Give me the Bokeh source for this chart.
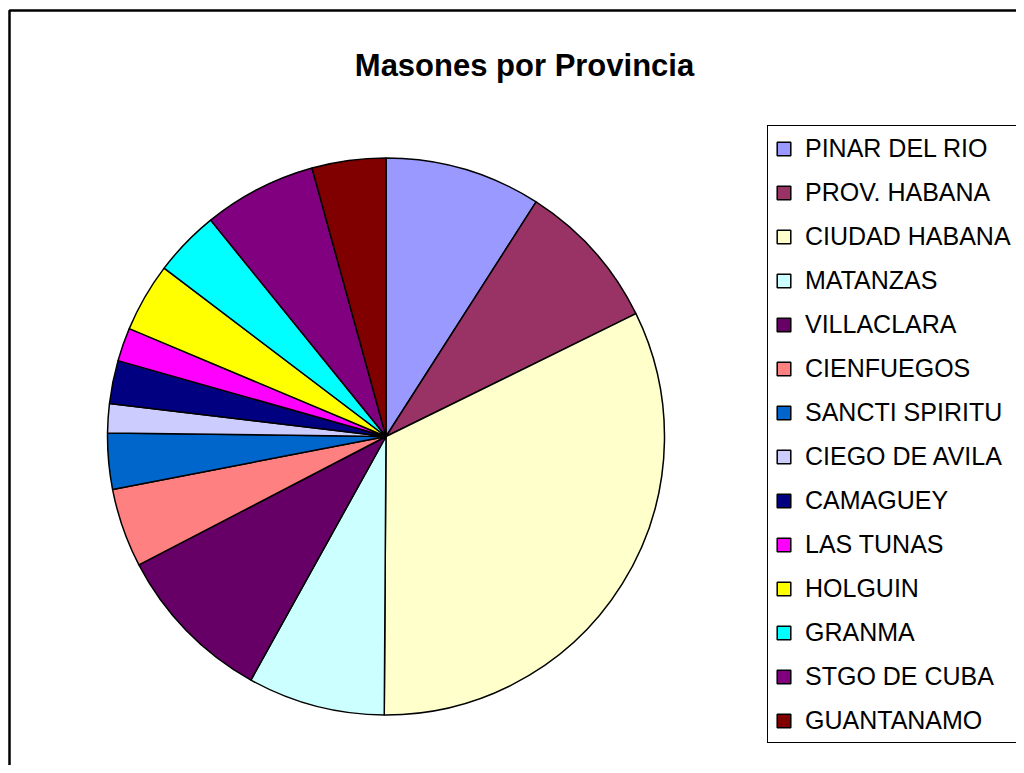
import numpy as np
from bokeh.plotting import figure
from bokeh.models import (ColumnDataSource, Legend, LegendItem, Label,
                          BoxAnnotation, Range1d)
from bokeh.embed import file_html
from bokeh.resources import INLINE

# ---- data ----
provinces = ["PINAR DEL RIO", "PROV. HABANA", "CIUDAD HABANA", "MATANZAS",
             "VILLACLARA", "CIENFUEGOS", "SANCTI SPIRITU", "CIEGO DE AVILA",
             "CAMAGUEY", "LAS TUNAS", "HOLGUIN", "GRANMA", "STGO DE CUBA",
             "GUANTANAMO"]
masones = [9.06, 8.67, 32.37, 7.96, 9.31, 4.58, 3.25, 1.69, 2.50, 1.94,
           4.00, 3.83, 6.56, 4.28]
colors = ["#9999FF", "#993366", "#FFFFCC", "#CCFFFF", "#660066", "#FF8080",
          "#0066CC", "#CCCCFF", "#000080", "#FF00FF", "#FFFF00", "#00FFFF",
          "#800080", "#800000"]
title_text = "Masones por Provincia"

W, H = 1016, 765
p = figure(width=W, height=H, output_backend="svg", toolbar_location=None,
           x_range=Range1d(0, W), y_range=Range1d(0, H), min_border=0,
           x_axis_location=None, y_axis_location=None,
           outline_line_color=None)
p.grid.visible = False
p.background_fill_color = "white"
p.border_fill_color = "white"

# chart-area border (only top and left edges fall inside the view)
p.add_layout(BoxAnnotation(left=9, right=W + 60, top=H - 10, bottom=-60,
                           fill_alpha=0, line_color="black", line_alpha=1.0,
                           line_width=2.5, level="underlay"))

vals = np.array(masones, dtype=float)
frac = vals / vals.sum()
cum = np.concatenate([[0.0], np.cumsum(frac)])
start = np.pi / 2 - cum[:-1] * 2 * np.pi
end = np.pi / 2 - cum[1:] * 2 * np.pi

src = ColumnDataSource(dict(name=provinces, value=masones, start=start,
                            end=end, color=colors))
r = p.wedge(x=385.5, y=H - 436, radius=278.5, start_angle="start",
            end_angle="end", direction="clock", fill_color="color",
            line_color="black", line_width=1.5, source=src)

items = [LegendItem(label=name, renderers=[r], index=i)
         for i, name in enumerate(provinces)]
legend = Legend(items=items, location=(767, 22),
                border_line_color="black", border_line_width=1.5,
                border_line_alpha=1.0,
                background_fill_color="white", background_fill_alpha=1.0,
                label_text_font="Liberation Sans", label_text_font_size="25px",
                label_text_color="black",
                glyph_width=17, glyph_height=17, label_standoff=13,
                spacing=14, label_height=30, label_width=260,
                padding=7, margin=0)
p.add_layout(legend)

p.add_layout(Label(x=524, y=H - 64.5, text=title_text,
                   text_font="Liberation Sans", text_font_style="bold",
                   text_font_size="31px", text_align="center",
                   text_baseline="alphabetic", text_color="black"))

open("out.html", "w").write(file_html(p, INLINE))
